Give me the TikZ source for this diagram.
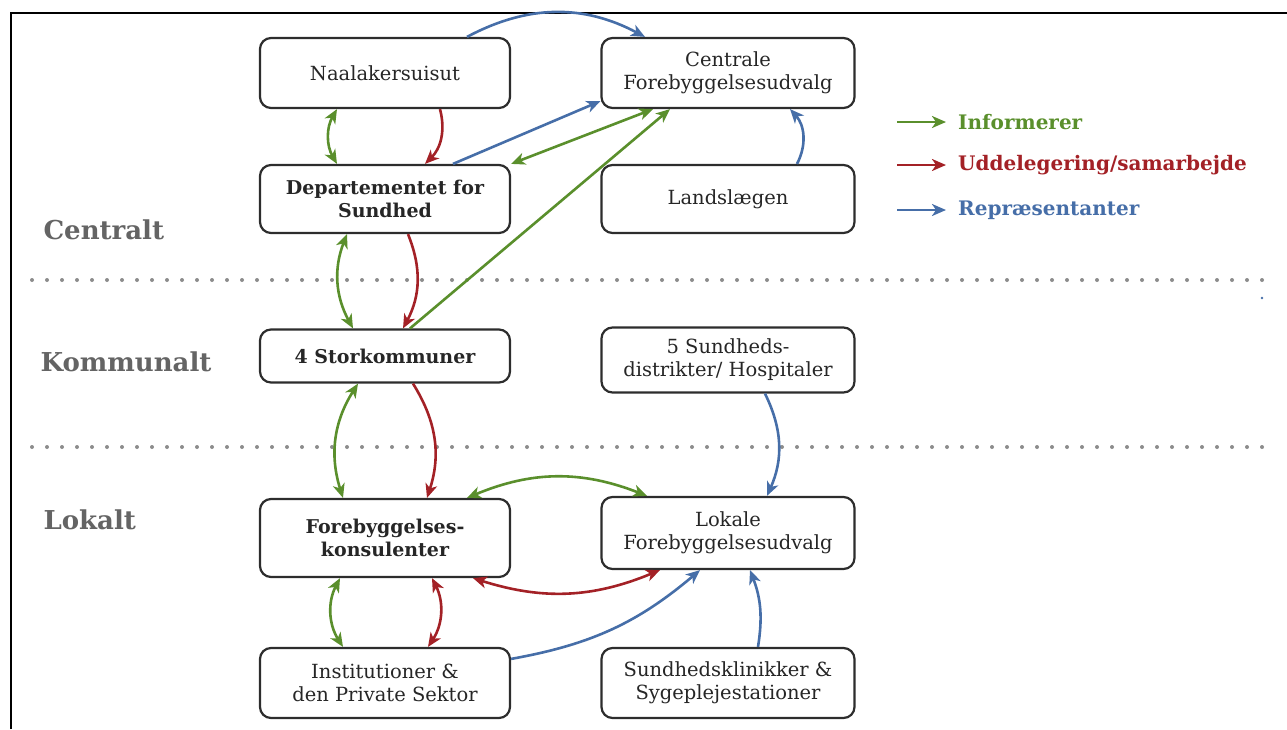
\documentclass[tikz,border=0pt]{standalone}
\usepackage{fontspec}
\setmainfont{DejaVu Serif}
\usetikzlibrary{arrows.meta}

\definecolor{infgreen}{RGB}{90,143,44}
\definecolor{uddred}{RGB}{163,33,38}
\definecolor{repblue}{RGB}{70,110,168}
\definecolor{boxline}{RGB}{45,45,45}
\definecolor{lvlgray}{RGB}{100,100,100}
\definecolor{dotgray}{RGB}{140,140,140}

\tikzset{
  box/.style={draw=boxline,line width=2.2pt,rounded corners=11pt,fill=white,
    minimum width=250pt,minimum height=70pt,align=center,text=black!85,
    font=\fontsize{19.5}{23}\selectfont},
  bbox/.style={box,font=\fontsize{19}{23}\selectfont\bfseries},
  lvl/.style={anchor=west,text=lvlgray,font=\fontsize{26}{30}\selectfont\bfseries},
  legtext/.style={anchor=west,inner sep=0pt,font=\fontsize{20}{24}\selectfont\bfseries},
  arr/.style={line width=2.6pt,-{Stealth[length=14pt,width=12pt,inset=4pt]}},
  dbl/.style={line width=2.6pt,{Stealth[length=14pt,width=12pt,inset=4pt]}-{Stealth[length=14pt,width=12pt,inset=4pt]}},
  inf/.style={draw=infgreen},
  udd/.style={draw=uddred},
  rep/.style={draw=repblue},
  dotline/.style={draw=dotgray,line width=4pt,line cap=round,dash pattern=on 0pt off 15pt}
}

\begin{document}
\begin{tikzpicture}[x=1pt,y=1pt]

\useasboundingbox (0,0) rectangle (1287,-729);

% frame
\draw[line width=2pt] (11,-729) -- (11,-13) -- (1287,-13);

% level separators
\draw[dotline] (32,-280) -- (1265,-280);
\draw[dotline] (32,-447) -- (1265,-447);
\fill[repblue] (1262,-298) circle (1.3);

% levels
\node[lvl] (lcen) at (40,-230) {Centralt};
\node[lvl] (lkom) at (37,-362) {Kommunalt};
\node[lvl] (llok) at (40,-520) {Lokalt};

% boxes
\node[box] (naal) at (385,-73) {Naalakersuisut};
\node[box,minimum width=253pt] (cfu) at (728,-73) {Centrale\\Forebyggelsesudvalg};
\node[bbox,minimum height=68pt] (dep) at (385,-199) {Departementet for\\Sundhed};
\node[box,minimum width=253pt,minimum height=68pt] (land) at (728,-199) {Landslægen};
\node[bbox,minimum height=53pt] (stor) at (385,-356) {4 Storkommuner};
\node[box,minimum width=253pt,minimum height=65pt] (dist) at (728,-360) {5 Sundheds-\\distrikter/ Hospitaler};
\node[bbox,minimum height=78pt] (fkons) at (385,-538) {Forebyggelses-\\konsulenter};
\node[box,minimum width=253pt,minimum height=72pt] (lfu) at (728,-533) {Lokale\\Forebyggelsesudvalg};
\node[box] (inst) at (385,-683) {Institutioner \&\\den Private Sektor};
\node[box,minimum width=253pt] (klin) at (728,-683) {Sundhedsklinikker \&\\Sygeplejestationer};

% centralt
\draw[rep,arr] ([xshift=82]naal.north) to[bend left=28] ([xshift=-83]cfu.north);
\draw[inf,dbl] ([xshift=-48]naal.south) to[bend right=30] ([xshift=-48]dep.north);
\draw[udd,arr] ([xshift=55]naal.south) to[bend left=30] ([xshift=40]dep.north);
\draw[rep,arr] ([xshift=68]dep.north) -- ([yshift=8]cfu.south west);
\draw[inf,dbl] (dep.north east) -- ([xshift=-75]cfu.south);
\draw[rep,arr] ([xshift=69]land.north) to[bend right=35] ([xshift=62]cfu.south);

% kommunalt
\draw[inf,arr] ([xshift=25]stor.north) -- ([xshift=-58]cfu.south);
\draw[inf,dbl] ([xshift=-38]dep.south) to[bend right=25] ([xshift=-32]stor.north);
\draw[udd,arr] ([xshift=23]dep.south) to[bend left=25] ([xshift=18]stor.north);
\draw[rep,arr] ([xshift=37]dist.south) to[bend left=25] ([xshift=39]lfu.north);

% lokalt
\draw[inf,dbl] ([xshift=-27]stor.south) to[bend right=25] ([xshift=-42]fkons.north);
\draw[udd,arr] ([xshift=28]stor.south) to[bend left=25] ([xshift=42]fkons.north);
\draw[inf,dbl] ([xshift=82]fkons.north) to[bend left=22] ([xshift=-81]lfu.north);
\draw[udd,dbl] ([xshift=88]fkons.south) to[bend right=20] ([xshift=-68]lfu.south);
\draw[inf,dbl] ([xshift=-45]fkons.south) to[bend right=30] ([xshift=-42]inst.north);
\draw[udd,dbl] ([xshift=47]fkons.south) to[bend left=30] ([xshift=43]inst.north);
\draw[rep,arr] ([yshift=-12]inst.north east) to[bend right=15] ([xshift=-28]lfu.south);
\draw[rep,arr] ([xshift=30]klin.north) to[bend right=15] ([xshift=22]lfu.south);

% legend
\coordinate (kinf) at (897,-122);
\coordinate (kudd) at (897,-165);
\coordinate (krep) at (897,-210);
\node[legtext,text=infgreen] (tinf) at (958,-122) {Informerer};
\node[legtext,text=uddred] (tudd) at (958,-165) {Uddelegering/samarbejde};
\node[legtext,text=repblue] (trep) at (958,-210) {Repræsentanter};
\draw[inf,arr,shorten >=12pt] (kinf) -- (tinf.west);
\draw[udd,arr,shorten >=12pt] (kudd) -- (tudd.west);
\draw[rep,arr,shorten >=12pt] (krep) -- (trep.west);

\end{tikzpicture}
\end{document}
